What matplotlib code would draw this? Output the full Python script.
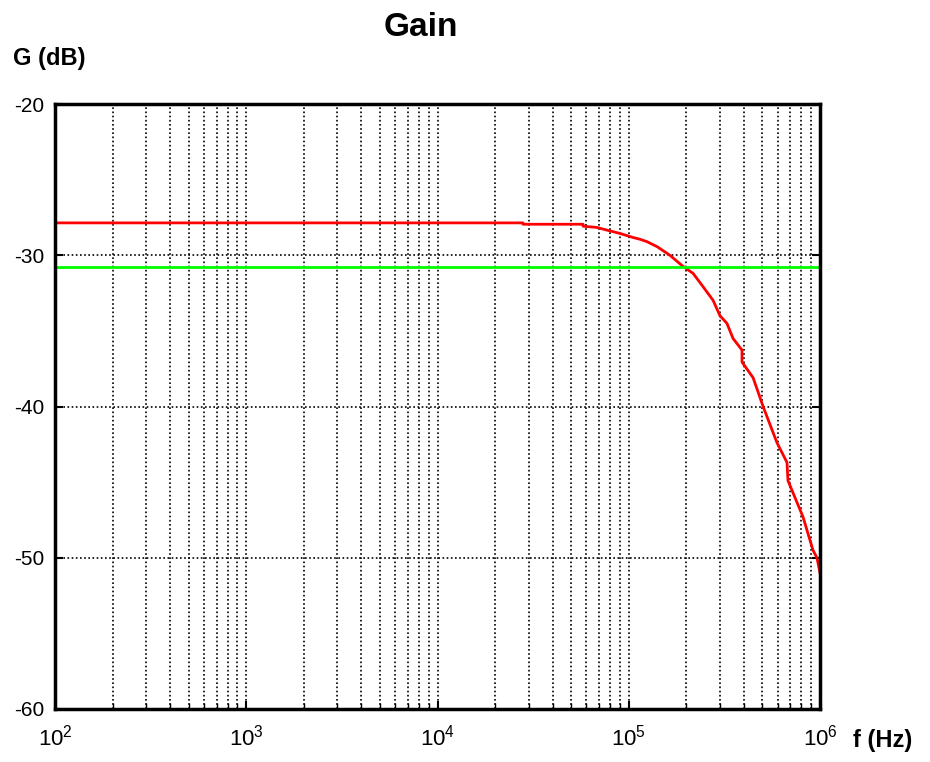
import numpy as np
import matplotlib
matplotlib.use("Agg")
import matplotlib.pyplot as plt
from matplotlib.ticker import LogLocator, FixedLocator, NullFormatter

plt.rcParams['font.family'] = ['Liberation Sans', 'DejaVu Sans']
plt.rcParams['mathtext.fontset'] = 'custom'
plt.rcParams['mathtext.rm'] = 'Liberation Sans'
plt.rcParams['axes.unicode_minus'] = False

# gain curve
freq = [1e2, 2.8e4, 2.8e4, 5.77e4, 5.77e4, 6.8e4, 7.7e4, 9.0e4, 1.05e5, 1.15e5, 1.245e5,
        1.41e5, 1.64e5, 1.92e5, 2.17e5, 2.45e5, 2.76e5, 3.0e5, 3.26e5, 3.51e5,
        3.91e5, 3.91e5, 4.47e5, 5.04e5, 5.96e5, 6.72e5, 6.8e5, 8.15e5, 9.19e5,
        9.64e5, 1e6]
gain = [-27.86, -27.86, -27.95, -27.95, -28.08, -28.16, -28.34, -28.56, -28.82, -28.95, -29.1,
        -29.44, -30.0, -30.73, -31.2, -32.09, -32.98, -34.0, -34.5, -35.5,
        -36.27, -37.06, -38.1, -40.0, -42.4, -43.7, -44.9, -47.3, -49.5,
        -50.0, -51.0]
cutoff_level = -30.8

yticks = [-60, -50, -40, -30, -20]
xticks = [1e2, 1e3, 1e4, 1e5, 1e6]
xlabels = ['$10^{2}$', '$10^{3}$', '$10^{4}$', '$10^{5}$', '$10^{6}$']

fig = plt.figure(figsize=(9.3, 7.62), dpi=100)
ax = fig.add_axes([55/930, 1-709/762, (820-55)/930, (709-104)/762])

ax.plot(freq, gain, color='#ff0000', lw=2)
ax.axhline(cutoff_level, color='#00ff00', lw=2)

ax.set_xscale('log')
ax.set_xlim(1e2, 1e6)
ax.set_ylim(-60, -20)

ax.xaxis.set_major_locator(FixedLocator(xticks))
ax.xaxis.set_minor_locator(LogLocator(base=10, subs=np.arange(2, 10)))
ax.xaxis.set_minor_formatter(NullFormatter())
ax.set_xticklabels(xlabels, fontsize=16)
ax.set_yticks(yticks)
ax.set_yticklabels([str(v) for v in yticks], fontsize=15)

ax.grid(True, which='both', axis='x', color='black', ls=(0, (1, 1.5)), lw=1.2)
ax.grid(True, which='major', axis='y', color='black', ls=(0, (1, 1.5)), lw=1.2)
ax.tick_params(which='major', direction='in', length=6, width=1.5, right=True, pad=8)
ax.tick_params(axis='x', which='major', pad=11)
ax.tick_params(which='minor', direction='in', length=4, width=1)
ax.tick_params(axis='y', which='minor', left=False, right=False)
for s in ax.spines.values():
    s.set_linewidth(2.5)

fig.text(421/930, 1-27/762, 'Gain', ha='center', va='center', fontsize=24, fontweight='bold')
fig.text(13/930, 1-59/762, 'G (dB)', ha='left', va='center', fontsize=17, fontweight='bold')
fig.text(853/930, 1-740/762, 'f (Hz)', ha='left', va='center', fontsize=17, fontweight='bold')

fig.savefig('out.png', dpi=100)
